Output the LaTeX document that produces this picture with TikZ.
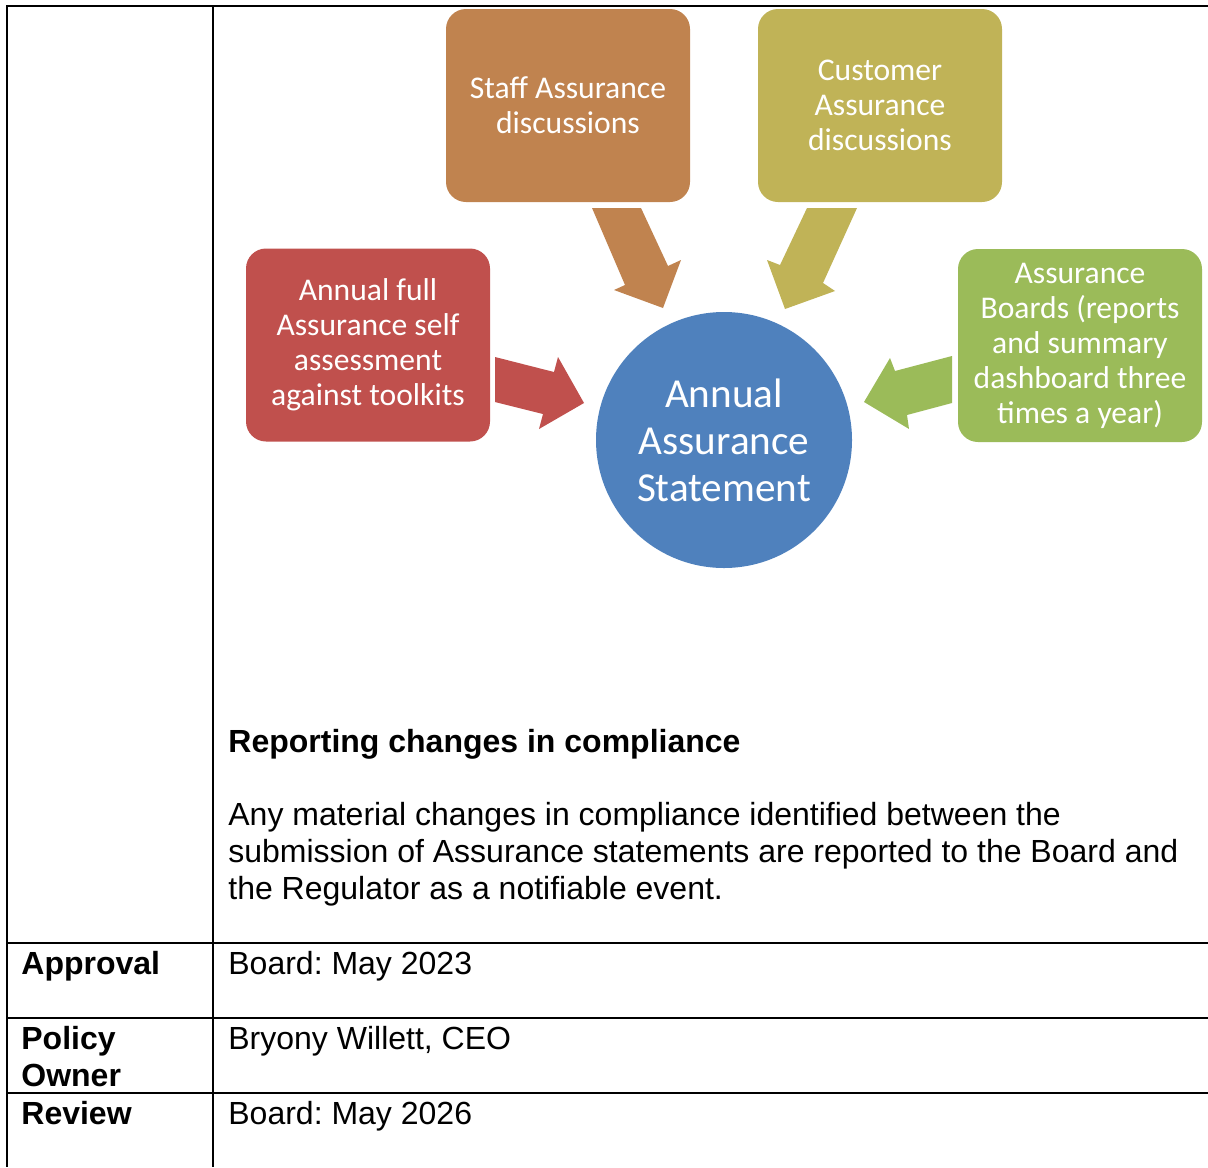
\documentclass[tikz,border=0pt]{standalone}
\usepackage{fontspec}
\setmainfont{Liberation Sans}
\newfontfamily\shapefont{Carlito}
\frenchspacing
\begin{document}
\begin{tikzpicture}[x=0.5pt,y=-0.5pt,
  rule/.style={line width=1.1pt,black},
  cell/.style={anchor=base west,inner sep=0pt,font=\fontsize{16}{18.4}\selectfont},
  head/.style={cell,font=\fontsize{16}{18.4}\selectfont\bfseries},
  box/.style={rounded corners=10pt,minimum width=122pt,minimum height=96.5pt,inner sep=0pt,
    text=white,align=center,font=\shapefont\fontsize{15.8}{17.5}\selectfont},
  blockarrow/.style={draw=none}]
\definecolor{staffc}{RGB}{192,131,79}
\definecolor{custc}{RGB}{192,179,87}
\definecolor{annc}{RGB}{192,80,77}
\definecolor{boardc}{RGB}{155,187,89}
\definecolor{circc}{RGB}{79,129,189}
\useasboundingbox (0,0) rectangle (1208,1167);

% table grid
\draw[rule] (1208,6) -- (7,6) -- (7,1167);
\draw[rule] (213,6) -- (213,1167);
\foreach \yy in {943,1018,1093} \draw[rule] (7,\yy) -- (1208,\yy);

% block arrows
\fill[annc] (495,357) -- (554,372) -- (558,357) -- (584,403) -- (539,429) -- (543,414) -- (495,402) -- cycle;
\fill[boardc] (952,356) -- (895,371) -- (890,358) -- (864,402) -- (909,429) -- (907,415) -- (952,403) -- cycle;
\fill[staffc] (592,208) -- (641,208) -- (668,266) -- (681,260) -- (663,308) -- (614,290) -- (625,285) -- cycle;
\fill[custc] (807,208) -- (857,208) -- (823,283) -- (835,291) -- (785,309) -- (767,260) -- (780,265) -- cycle;

% shapes
\node[box,fill=staffc] (staff) at (568,105.5) {Staff Assurance\\discussions};
\node[box,fill=custc] (cust) at (880,105.5) {Customer\\Assurance\\discussions};
\node[box,fill=annc] (annual) at (368,345) {Annual full\\Assurance self\\assessment\\against toolkits};
\node[box,fill=boardc] (boards) at (1080,345.5) {Assurance\\Boards (reports\\and summary\\dashboard three\\times a year)};
\node[circle,fill=circc,minimum size=128pt,inner sep=0pt,text=white,align=center,
  font=\shapefont\fontsize{20.6}{23.5}\selectfont] (stmt) at (724,440) {Annual\\Assurance\\Statement};

% text of the table (multi-line cells are placed by their last baseline)
\node[head] (rephead) at (228,752) {Reporting changes in compliance};
\node[cell,align=left] (reptext) at (228,899) {Any material changes in compliance identified between the\\submission of Assurance statements are reported to the Board and\\the Regulator as a notifiable event.};
\node[head] (appr) at (21,974) {Approval};
\node[cell] (apprv) at (228,974) {Board: May 2023};
\node[head,align=left] (owner) at (21,1086) {Policy\\Owner};
\node[cell] (ownerv) at (228,1049) {Bryony Willett, CEO};
\node[head] (rev) at (21,1124) {Review};
\node[cell] (revv) at (228,1124) {Board: May 2026};
\end{tikzpicture}
\end{document}
